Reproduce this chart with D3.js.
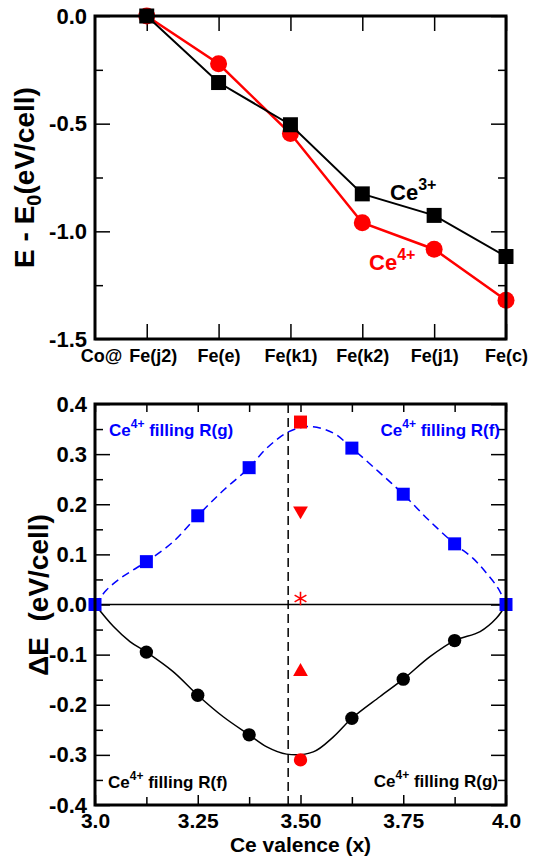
<!DOCTYPE html>
<html>
<head>
<meta charset="utf-8">
<script src="https://cdn.jsdelivr.net/npm/d3@7"></script>
<style>
  html, body { margin: 0; padding: 0; background: #fff; }
  svg { display: block; font-family: "Liberation Sans", Arial, Helvetica, sans-serif; }
</style>
</head>
<body>
<svg id="chart" width="533" height="858"></svg>
<script>
// ---------------- DATA ----------------
// Top panel
const categories = ["Fe(j2)", "Fe(e)", "Fe(k1)", "Fe(k2)", "Fe(j1)", "Fe(c)"];
const catPos = [1, 2, 3, 4, 5, 6];
const ce3Energy = [0, -0.309, -0.505, -0.826, -0.926, -1.117];
const ce4Energy = [0, -0.222, -0.546, -0.960, -1.083, -1.320];
const topYTicks = [0, -0.5, -1.0, -1.5];
const topYLabels = ["0.0", "-0.5", "-1.0", "-1.5"];
const topYMinor = [-0.25, -0.75, -1.25];

// Bottom panel
const valenceBlue = [3.0, 3.125, 3.25, 3.375, 3.625, 3.75, 3.875, 4.0];
const blueDeltaE = [0, 0.0855, 0.177, 0.273, 0.312, 0.220, 0.121, 0];
const valenceBlack = [3.125, 3.25, 3.375, 3.625, 3.75, 3.875];
const blackDeltaE = [-0.095, -0.181, -0.260, -0.227, -0.149, -0.072];
const redX = 3.5;
const redSquareE = 0.364;
const redDownE = 0.187;
const redStarE = 0.012;
const redUpE = -0.134;
const redCircleE = -0.310;
// fitted curves
const blueFitX = [3.0, 3.028, 3.061, 3.093, 3.125, 3.19, 3.25, 3.31, 3.375, 3.418, 3.472, 3.523, 3.58, 3.625, 3.69, 3.75, 3.81, 3.875, 3.92, 3.953, 3.981, 4.0];
const blueFitY = [0, 0.029, 0.052, 0.069, 0.0855, 0.125, 0.177, 0.226, 0.273, 0.312, 0.345, 0.355, 0.342, 0.312, 0.265, 0.220, 0.170, 0.121, 0.092, 0.062, 0.032, 0];
const blackFitX = [3.0, 3.045, 3.085, 3.125, 3.19, 3.25, 3.312, 3.375, 3.418, 3.466, 3.531, 3.58, 3.625, 3.693, 3.75, 3.815, 3.875, 3.937, 3.977, 4.0];
const blackFitY = [0, -0.044, -0.074, -0.095, -0.134, -0.181, -0.224, -0.260, -0.284, -0.2985, -0.294, -0.264, -0.227, -0.184, -0.149, -0.104, -0.072, -0.054, -0.027, 0];
const dividerX = 3.47;
const botXTicks = [3.0, 3.25, 3.5, 3.75, 4.0];
const botXLabels = ["3.0", "3.25", "3.50", "3.75", "4.0"];
const botXMinor = [3.125, 3.375, 3.625, 3.875];
const botYTicks = [0.4, 0.3, 0.2, 0.1, 0, -0.1, -0.2, -0.3, -0.4];
const botYLabels = ["0.4", "0.3", "0.2", "0.1", "0.0", "-0.1", "-0.2", "-0.3", "-0.4"];
const botYMinor = [0.35, 0.25, 0.15, 0.05, -0.05, -0.15, -0.25, -0.35];

// ---------------- DRAW ----------------
const svg = d3.select("#chart");
const RED = "#ff0000", BLUE = "#0000ff";
const MAJ = 15, MIN = 8;

function ticksOnly(g) {
  g.select(".domain").remove();
  g.selectAll(".tick line").attr("stroke", "#000").attr("stroke-width", 1.5);
}
function styleLabels(g, size) {
  g.selectAll("text").attr("font-size", size).attr("font-weight", "bold").attr("fill", "#000")
    .attr("font-family", "'Liberation Sans', Arial, sans-serif");
}

// ===== TOP PANEL =====
const T = {left: 95, right: 506, top: 16, bottom: 339};
const xT = d3.scaleLinear().domain([0.28, 6]).range([T.left, T.right]);
const yT = d3.scaleLinear().domain([-1.5, 0]).range([T.bottom, T.top]);

// axes
svg.append("g").attr("transform", `translate(0,${T.bottom})`)
  .call(d3.axisBottom(xT).tickValues(catPos).tickSize(-MAJ).tickPadding(10)
    .tickFormat((d, i) => categories[i]))
  .call(ticksOnly).call(g => styleLabels(g, 18))
  .call(g => g.selectAll(".tick text").filter((d, i) => i === 0).attr("dx", 6));
svg.append("g").attr("transform", `translate(0,${T.top})`)
  .call(d3.axisTop(xT).tickValues(catPos).tickSize(-MAJ).tickFormat(""))
  .call(ticksOnly);
svg.append("g").attr("transform", `translate(${T.left},0)`)
  .call(d3.axisLeft(yT).tickValues(topYTicks).tickSize(-MAJ).tickPadding(8)
    .tickFormat((d, i) => topYLabels[i]))
  .call(ticksOnly).call(g => styleLabels(g, 22));
svg.append("g").attr("transform", `translate(${T.left},0)`)
  .call(d3.axisLeft(yT).tickValues(topYMinor).tickSize(-MIN).tickFormat(""))
  .call(ticksOnly);
svg.append("g").attr("transform", `translate(${T.right},0)`)
  .call(d3.axisRight(yT).tickValues(topYTicks).tickSize(-MAJ).tickFormat(""))
  .call(ticksOnly);
svg.append("g").attr("transform", `translate(${T.right},0)`)
  .call(d3.axisRight(yT).tickValues(topYMinor).tickSize(-MIN).tickFormat(""))
  .call(ticksOnly);

// "Co@" prefix label
svg.append("text").attr("x", xT(0.37)).attr("y", T.bottom + 23)
  .attr("text-anchor", "middle").attr("font-size", 18).attr("font-weight", "bold").text("Co@");

// lines
const lineT = d3.line().x((d, i) => xT(catPos[i])).y(d => yT(d));
svg.append("path").datum(ce4Energy).attr("d", lineT).attr("fill", "none")
  .attr("stroke", RED).attr("stroke-width", 2.5);
svg.selectAll(".c4").data(ce4Energy).join("path").attr("class", "c4")
  .attr("d", d3.symbol(d3.symbolCircle, 227))
  .attr("transform", (d, i) => `translate(${xT(catPos[i])},${yT(d)})`).attr("fill", RED);
svg.append("path").datum(ce3Energy).attr("d", lineT).attr("fill", "none")
  .attr("stroke", "#000").attr("stroke-width", 2);
svg.selectAll(".c3").data(ce3Energy).join("path").attr("class", "c3")
  .attr("d", d3.symbol(d3.symbolSquare, 225))
  .attr("transform", (d, i) => `translate(${xT(catPos[i])},${yT(d)})`).attr("fill", "#000");

// frame
svg.append("rect").attr("x", T.left).attr("y", T.top).attr("width", T.right - T.left)
  .attr("height", T.bottom - T.top).attr("fill", "none").attr("stroke", "#000").attr("stroke-width", 3);

// series labels
function ceLabel(x, y, sup, color) {
  const t = svg.append("text").attr("x", x).attr("y", y).attr("font-size", 22)
    .attr("font-weight", "bold").attr("fill", color);
  t.append("tspan").text("Ce");
  t.append("tspan").attr("font-size", 16).attr("dy", -10).text(sup);
}
ceLabel(390, 200, "3+", "#000");
ceLabel(369, 270, "4+", RED);

// y label
const ylT = svg.append("text").attr("transform", `translate(34,${(T.top + T.bottom) / 2}) rotate(-90)`)
  .attr("text-anchor", "middle").attr("font-size", 28).attr("font-weight", "bold");
ylT.append("tspan").text("E - E");
ylT.append("tspan").attr("font-size", 20).attr("dy", 7).text("0");
ylT.append("tspan").attr("dy", -7).text("(eV/cell)");

// ===== BOTTOM PANEL =====
const B = {left: 95, right: 506, top: 404, bottom: 805};
const xB = d3.scaleLinear().domain([3, 4]).range([B.left, B.right]);
const yB = d3.scaleLinear().domain([-0.4, 0.4]).range([B.bottom, B.top]);

svg.append("g").attr("transform", `translate(0,${B.bottom})`)
  .call(d3.axisBottom(xB).tickValues(botXTicks).tickSize(-10).tickPadding(8)
    .tickFormat((d, i) => botXLabels[i]))
  .call(ticksOnly).call(g => styleLabels(g, 21));
svg.append("g").attr("transform", `translate(0,${B.bottom})`)
  .call(d3.axisBottom(xB).tickValues(botXMinor).tickSize(-8).tickFormat(""))
  .call(ticksOnly);
svg.append("g").attr("transform", `translate(0,${B.top})`)
  .call(d3.axisTop(xB).tickValues(botXTicks.concat(botXMinor)).tickSize(-8).tickFormat(""))
  .call(ticksOnly);
svg.append("g").attr("transform", `translate(${B.left},0)`)
  .call(d3.axisLeft(yB).tickValues(botYTicks).tickSize(-MAJ).tickPadding(8)
    .tickFormat((d, i) => botYLabels[i]))
  .call(ticksOnly).call(g => styleLabels(g, 22));
svg.append("g").attr("transform", `translate(${B.left},0)`)
  .call(d3.axisLeft(yB).tickValues(botYMinor).tickSize(-MIN).tickFormat(""))
  .call(ticksOnly);
svg.append("g").attr("transform", `translate(${B.right},0)`)
  .call(d3.axisRight(yB).tickValues(botYTicks).tickSize(-MAJ).tickFormat(""))
  .call(ticksOnly);
svg.append("g").attr("transform", `translate(${B.right},0)`)
  .call(d3.axisRight(yB).tickValues(botYMinor).tickSize(-MIN).tickFormat(""))
  .call(ticksOnly);

// zero line & divider
svg.append("line").attr("x1", B.left).attr("x2", B.right).attr("y1", yB(0)).attr("y2", yB(0))
  .attr("stroke", "#000").attr("stroke-width", 1.5);
svg.append("line").attr("x1", xB(dividerX)).attr("x2", xB(dividerX)).attr("y1", B.top).attr("y2", B.bottom)
  .attr("stroke", "#000").attr("stroke-width", 1.5).attr("stroke-dasharray", "9,5");

// fit curves
const fitLine = d3.line().curve(d3.curveCatmullRom.alpha(0.5));
svg.append("path").attr("d", fitLine(blueFitX.map((x, i) => [xB(x), yB(blueFitY[i])])))
  .attr("fill", "none").attr("stroke", BLUE).attr("stroke-width", 1.5).attr("stroke-dasharray", "8,5");
svg.append("path").attr("d", fitLine(blackFitX.map((x, i) => [xB(x), yB(blackFitY[i])])))
  .attr("fill", "none").attr("stroke", "#000").attr("stroke-width", 1.5);

// markers
svg.selectAll(".bc").data(blackDeltaE).join("path").attr("class", "bc")
  .attr("d", d3.symbol(d3.symbolCircle, 140))
  .attr("transform", (d, i) => `translate(${xB(valenceBlack[i])},${yB(d)})`).attr("fill", "#000");
svg.selectAll(".bs").data(blueDeltaE).join("path").attr("class", "bs")
  .attr("d", d3.symbol(d3.symbolSquare, 169))
  .attr("transform", (d, i) => `translate(${xB(valenceBlue[i])},${yB(d)})`).attr("fill", BLUE);

svg.append("path").attr("d", d3.symbol(d3.symbolSquare, 169)())
  .attr("transform", `translate(${xB(redX)},${yB(redSquareE)})`).attr("fill", RED);
svg.append("path").attr("d", d3.symbol(d3.symbolTriangle, 95)())
  .attr("transform", `translate(${xB(redX)},${yB(redDownE)}) rotate(180)`).attr("fill", RED);
svg.append("path").attr("d", d3.symbol(d3.symbolTriangle, 95)())
  .attr("transform", `translate(${xB(redX)},${yB(redUpE)})`).attr("fill", RED);
svg.append("path").attr("d", d3.symbol(d3.symbolAsterisk, 130)())
  .attr("transform", `translate(${xB(redX)},${yB(redStarE)})`)
  .attr("fill", "none").attr("stroke", RED).attr("stroke-width", 1.6);
svg.append("path").attr("d", d3.symbol(d3.symbolCircle, 140)())
  .attr("transform", `translate(${xB(redX)},${yB(redCircleE)})`).attr("fill", RED);

// frame
svg.append("rect").attr("x", B.left).attr("y", B.top).attr("width", B.right - B.left)
  .attr("height", B.bottom - B.top).attr("fill", "none").attr("stroke", "#000").attr("stroke-width", 3);

// annotations
function fillLabel(x, y, site, color, weight, anchor) {
  const t = svg.append("text").attr("x", x).attr("y", y).attr("font-size", 17)
    .attr("font-weight", weight).attr("fill", color).attr("text-anchor", anchor);
  t.append("tspan").text("Ce");
  t.append("tspan").attr("font-size", 12).attr("dy", -8).text("4+");
  t.append("tspan").attr("dy", 8).text(" filling " + site);
}
fillLabel(109, 436, "R(g)", BLUE, "bold", "start");
fillLabel(500, 436, "R(f)", BLUE, "bold", "end");
fillLabel(108, 788, "R(f)", "#000", "bold", "start");
fillLabel(498, 787, "R(g)", "#000", "bold", "end");

// axis titles
svg.append("text").attr("x", (B.left + B.right) / 2).attr("y", 852).attr("text-anchor", "middle")
  .attr("font-size", 21).attr("font-weight", "bold").text("Ce valence (x)");
svg.append("text").attr("transform", `translate(48,595) rotate(-90)`)
  .attr("text-anchor", "middle").attr("font-size", 28).attr("font-weight", "bold")
  .style("white-space", "pre").text("\u0394E  (eV/cell)");
</script>
</body>
</html>
